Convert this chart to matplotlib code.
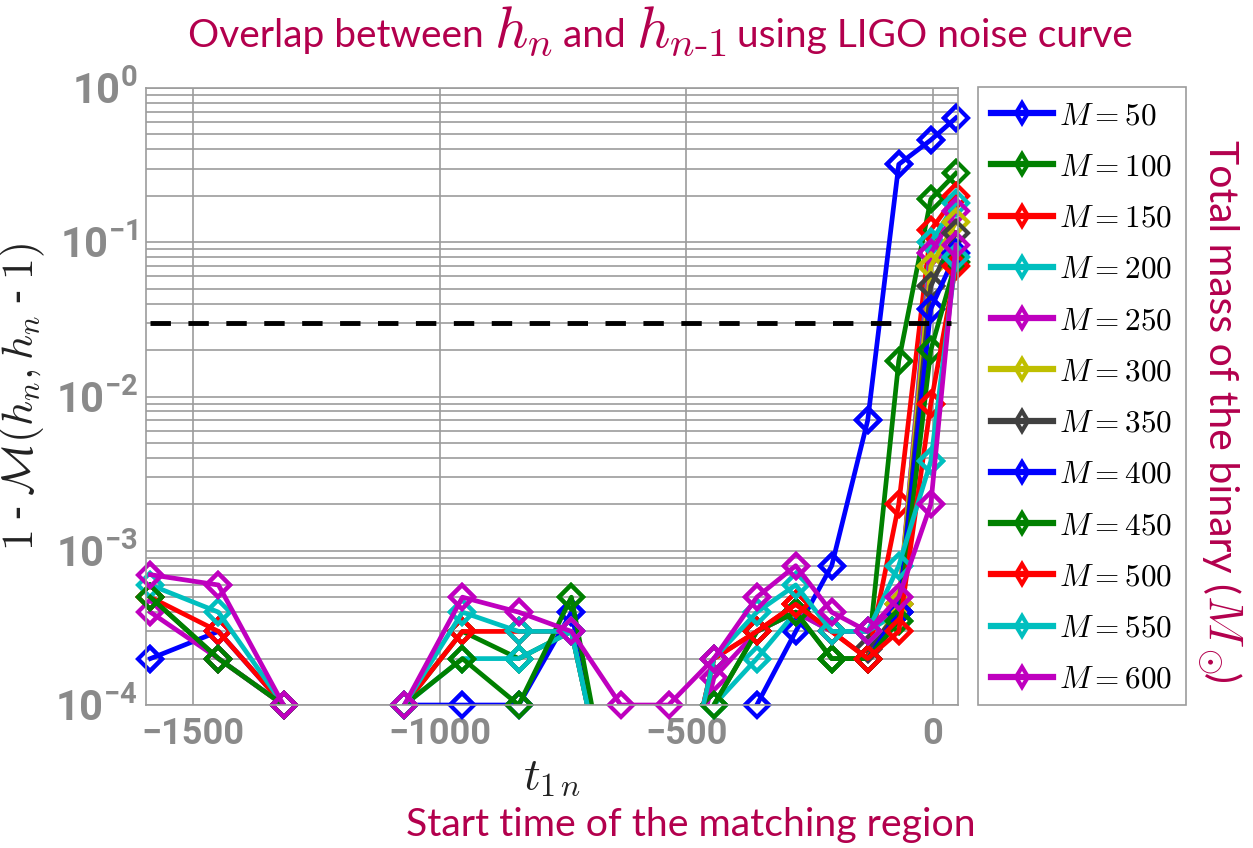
import numpy as np
import matplotlib.pyplot as plt
from matplotlib.patches import Rectangle
from matplotlib.ticker import FuncFormatter, LogLocator, NullFormatter

# tick labels: bold sans; legend / axis labels use Computer Modern via math_fontfamily
plt.rcParams['font.family'] = ['Roboto', 'DejaVu Sans']
plt.rcParams['font.weight'] = 'bold'
plt.rcParams['mathtext.fontset'] = 'custom'
plt.rcParams['mathtext.rm'] = 'Roboto:bold'
plt.rcParams['mathtext.it'] = 'Roboto:italic:bold'
plt.rcParams['mathtext.bf'] = 'Roboto:bold'

crimson = '#B3004D'
grid_gray = '#9c9c9c'
tick_gray = '#8a8a8a'

L = 1e-5      # mismatch below the plotted range
N = np.nan    # no point computed

# start time of the matching region
t_start = [-1587, -1449, -1317, -1195, -1072, -954, -840, -733, -633, -536,
           -444, -357, -278, -205, -132, -69, -4, 47]

masses = [50, 100, 150, 200, 250, 300, 350, 400, 450, 500, 550, 600]
colors = ['b', 'g', 'r', 'c', 'm', 'y', '#404040', 'b', 'g', 'r', 'c', 'm']

# 1 - match between consecutive waveforms
mm_50 = [2e-4, 3e-4, 1e-4, L, 1e-4, 1e-4, 1e-4, 4e-4, L, L,
         L, 1e-4, 3e-4, 8e-4, 7e-3, 0.32, 0.46, 0.64]
mm_100 = [5e-4, 2e-4, 1e-4, L, 1e-4, 3e-4, 2e-4, 3e-4, L, L,
          1e-4, 3e-4, 4e-4, 2e-4, 2e-4, 0.017, 0.19, 0.28]
mm_150 = [5e-4, 3e-4, 1e-4, L, 1e-4, 3e-4, 3e-4, 3e-4, L, L,
          2e-4, 3e-4, 4.5e-4, 3e-4, 2e-4, 2e-3, 0.12, 0.2]
mm_200 = [6e-4, 4e-4, 1e-4, L, 1e-4, 2e-4, 2e-4, 3e-4, L, L,
          1e-4, 2e-4, 4e-4, 3e-4, 3e-4, 4e-4, 0.1, 0.18]
mm_250 = [4e-4, 2e-4, 1e-4, L, L, L, L, L, L, L,
          1.5e-4, 3e-4, 4e-4, 3e-4, 3e-4, 4.5e-4, 0.085, 0.16]
mm_300 = [N, N, N, N, N, N, N, N, N, N,
          N, N, N, N, 2e-4, 4.5e-4, 0.07, 0.135]
mm_350 = [N, N, N, N, N, N, N, N, N, N,
          N, N, N, N, 2.3e-4, 4e-4, 0.052, 0.115]
mm_400 = [N, N, N, N, N, N, N, N, N, N,
          N, N, N, N, 2e-4, 4e-4, 0.037, 0.085]
mm_450 = [5e-4, 2e-4, 1e-4, L, 1e-4, 2e-4, 1e-4, 5e-4, L, L,
          1e-4, 3e-4, 4e-4, 2e-4, 2e-4, 3.5e-4, 0.02, 0.075]
mm_500 = [L, L, L, L, L, L, L, L, L, L,
          2e-4, 3e-4, 4.5e-4, 3e-4, 2e-4, 3e-4, 0.009, 0.07]
mm_550 = [L, L, L, L, 1e-4, 4e-4, 3e-4, 3e-4, L, L,
          2e-4, 4e-4, 6e-4, 3e-4, 3e-4, 8e-4, 0.0038, 0.08]
mm_600 = [7e-4, 6e-4, 1e-4, L, 1e-4, 5e-4, 4e-4, 3e-4, 1e-4, 1e-4,
          2e-4, 5e-4, 8e-4, 4e-4, 3e-4, 5e-4, 0.002, 0.096]

series = [mm_50, mm_100, mm_150, mm_200, mm_250, mm_300,
          mm_350, mm_400, mm_450, mm_500, mm_550, mm_600]

threshold = 0.03
t_thresh_end = 37
y_min, y_max = 1e-4, 1

fig = plt.figure(figsize=(12.53, 8.48), dpi=100)
ax = fig.add_axes([0.1165, 0.1686, 0.648, 0.7276])

mk = dict(marker='D', ms=12.5, mfc='none', mew=3)
for m, vals, col in zip(masses, series, colors):
    vals = np.array(vals, dtype=float)
    ax.plot(t_start, vals, color=col, lw=3.4, label=r'$M=%d$' % m, **mk)
    # markers on the axes edge are drawn in full
    shown = np.where(vals >= y_min, vals, np.nan)
    ax.plot(t_start, shown, color=col, ls='none', clip_on=False, **mk)

ax.plot([t_start[0], t_thresh_end], [threshold, threshold], color='k', lw=3.5,
        ls=(0, (4.2, 3.6)), zorder=5)

ax.set_yscale('log')
ax.set_ylim(y_min, y_max)
ax.set_xlim(-1596, 51)
ax.set_xticks([-1500, -1000, -500, 0])
ax.yaxis.set_major_locator(LogLocator(base=10, numticks=10))
ax.yaxis.set_minor_locator(LogLocator(base=10, subs=np.arange(2, 10), numticks=10))
ax.yaxis.set_major_formatter(FuncFormatter(lambda v, p: r'$10^{%d}$' % round(np.log10(v))))
ax.yaxis.set_minor_formatter(NullFormatter())

ax.grid(True, axis='y', which='both', color=grid_gray, lw=1.2)
ax.grid(True, axis='x', which='major', color=grid_gray, lw=1.2)
ax.set_axisbelow(True)
for sp in ax.spines.values():
    sp.set_color(grid_gray)
    sp.set_linewidth(1.2)
ax.tick_params(which='both', length=0, labelcolor=tick_gray, pad=8)
ax.tick_params(axis='x', labelsize=26)
ax.tick_params(axis='y', labelsize=30, pad=6)

ax.set_ylabel(r'$1$ - $\mathcal{M}(h_n, h_n$ - $1)$', fontsize=31.5,
              math_fontfamily='cm', labelpad=6, color='#222222')
ax.set_xlabel(r'$t_{1\,n}$', fontsize=33, math_fontfamily='cm', labelpad=2,
              color='#222222')

# legend frame drawn by hand so it keeps a fixed size
fig.add_artist(Rectangle((978 / 1253, 1 - 705 / 848), 208 / 1253, 618 / 848,
                         transform=fig.transFigure, facecolor='white',
                         edgecolor=grid_gray, lw=1.2, zorder=-1))
leg = ax.legend(loc='upper left', bbox_to_anchor=(978 / 1253, 1 - 87 / 848),
                bbox_transform=fig.transFigure, borderaxespad=0, frameon=False,
                fontsize=22.5, markerscale=0.85, handlelength=1.98,
                labelspacing=0.68, borderpad=0.42, handletextpad=0.18)
for txt in leg.get_texts():
    txt.set_math_fontfamily('cm')
for hnd in leg.legend_handles:
    hnd.set_marker('d')
    hnd.set_linewidth(4.5)


def place_pieces(pieces, x0, y0, rotate=False):
    """Lay out mixed sans / math pieces one after another, centred on (x0, y0)."""
    renderer = fig.canvas.get_renderer()
    objs, sizes = [], []
    for s, size, fam in pieces:
        kw = dict(fontsize=size, color=crimson, family='Lato', weight='normal',
                  va='baseline', ha='left', transform=None)
        if fam == 'cm':
            kw['math_fontfamily'] = 'cm'
        if rotate:
            kw.update(rotation=-90, rotation_mode='anchor')
        t = fig.text(0, 0, s, **kw)
        bb = t.get_window_extent(renderer)
        objs.append(t)
        sizes.append(bb.height if rotate else bb.width)
    total = sum(sizes)
    W, H = fig.bbox.width, fig.bbox.height
    if rotate:
        pos = y0 * H + total / 2
        for t, sz in zip(objs, sizes):
            t.set_position((x0 * W, pos))
            pos -= sz
    else:
        pos = x0 * W - total / 2
        for t, sz in zip(objs, sizes):
            t.set_position((pos, y0 * H))
            pos += sz


place_pieces([('Overlap between ', 28, 'sans'), (r'$h_n$', 42, 'cm'),
              (' and ', 28, 'sans'), (r'$h_{n\text{-}1}$', 42, 'cm'),
              (' using LIGO noise curve', 28, 'sans')], 0.527, 0.944)
place_pieces([('Start time of the matching region', 28.3, 'sans')], 0.551, 0.014)
place_pieces([('Total mass of the binary (', 29.5, 'sans'), (r'$M_\odot$', 35, 'cm'),
              (')', 29.5, 'sans')], 0.965, 0.514, rotate=True)

fig.savefig('out.png', dpi=100)
